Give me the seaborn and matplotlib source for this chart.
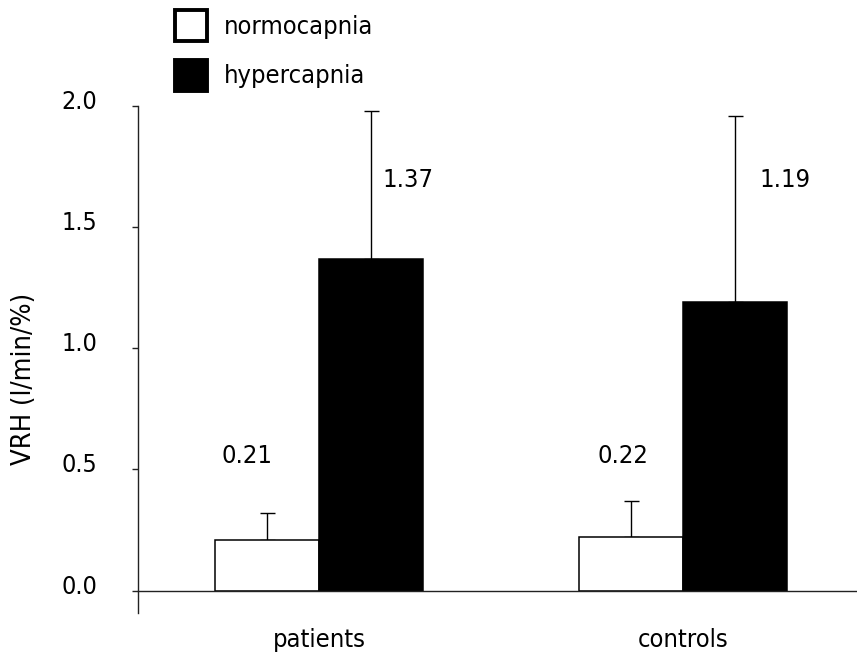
import matplotlib
matplotlib.use("Agg")
import matplotlib.pyplot as plt
import matplotlib.transforms as mtransforms
from matplotlib.patches import Patch
import pandas as pd
import seaborn as sns

# Ventilatory response (mean + SD) by group and condition
groups = ["patients", "controls"]
conditions = ["normocapnia", "hypercapnia"]
normo_vals = [0.21, 0.22]
hyper_vals = [1.37, 1.19]
normo_err = [0.11, 0.15]
hyper_err = [0.61, 0.77]
y_ticks = [0.0, 0.5, 1.0, 1.5, 2.0]

df = pd.DataFrame({
    "group": groups * 2,
    "condition": [conditions[0]] * 2 + [conditions[1]] * 2,
    "value": normo_vals + hyper_vals,
})
errs = {conditions[0]: normo_err, conditions[1]: hyper_err}

sns.set_style("white")
plt.rcParams["font.family"] = ["DejaVu Sans"]
plt.rcParams["font.stretch"] = "condensed"
plt.rcParams["text.color"] = "black"
plt.rcParams["axes.labelcolor"] = "black"
plt.rcParams["xtick.color"] = "black"
plt.rcParams["ytick.color"] = "black"
FS = 18.3
TICK_FS = 18

fig = plt.figure(figsize=(8.57, 6.57), dpi=100)
ax = fig.add_axes([0.1607, 0.0674, 0.8393, 0.7713])

sns.barplot(data=df, x="group", y="value", hue="condition",
            hue_order=conditions, order=groups,
            palette={"normocapnia": "white", "hypercapnia": "black"},
            edgecolor="black", linewidth=1.1, width=0.572,
            errorbar=None, legend=False, ax=ax, zorder=2)

# one-sided (upper) error bars on every bar
for cond, cont in zip(conditions, ax.containers):
    xs = [p.get_x() + p.get_width() / 2 for p in cont.patches]
    hs = [p.get_height() for p in cont.patches]
    ax.errorbar(xs, hs, yerr=[[0] * len(hs), errs[cond]], fmt="none",
                ecolor="black", elinewidth=1.0, capsize=5.4, capthick=1.0,
                zorder=1, clip_on=False)

# value labels beside each bar
label_dx = {conditions[0]: [-0.056, -0.023], conditions[1]: [0.101, 0.136]}
label_y = {conditions[0]: 0.526, conditions[1]: 1.667}
for cond, cont in zip(conditions, ax.containers):
    for i, p in enumerate(cont.patches):
        xc = p.get_x() + p.get_width() / 2 + label_dx[cond][i]
        ax.text(xc, label_y[cond], f"{p.get_height():.2f}", ha="center",
                va="baseline", fontsize=FS, color="black")

ax.set_xlim(-0.499, 1.477)
ax.set_ylim(-0.091, 2.0)
ax.set_yticks(y_ticks)
ax.set_yticklabels([f"{t:.1f}" for t in y_ticks])
ax.set_xlabel("")
ax.set_ylabel("VRH (l/min/%)", fontsize=19.6, color="black")
ax.yaxis.set_label_coords(-0.140, 0.461)

for side in ("top", "right"):
    ax.spines[side].set_visible(False)
ax.spines["bottom"].set_position(("data", 0))
for side in ("left", "bottom"):
    ax.spines[side].set_color("#222222")
    ax.spines[side].set_linewidth(1.0)

ax.tick_params(axis="y", direction="out", length=4.3, width=1.0,
               color="#222222", labelcolor="black", pad=25,
               labelsize=TICK_FS, left=True)
ax.tick_params(axis="x", length=0, pad=27, labelsize=FS, labelcolor="black")
shift = mtransforms.ScaledTranslation(0, 0.065, fig.dpi_scale_trans)
for lab in ax.get_yticklabels():
    lab.set_transform(lab.get_transform() + shift)

handles = [Patch(facecolor="white", edgecolor="black", linewidth=2.8),
           Patch(facecolor="black", edgecolor="black", linewidth=2.8)]
fig.legend(handles, conditions, loc="upper left",
           bbox_to_anchor=(174.6 / 857, 1 - 10.3 / 657),
           bbox_transform=fig.transFigure, frameon=False, fontsize=FS,
           borderpad=0, borderaxespad=0, handlelength=1.28,
           handleheight=1.5, labelspacing=0.72, handletextpad=0.66)

fig.savefig("out.png", dpi=100)
